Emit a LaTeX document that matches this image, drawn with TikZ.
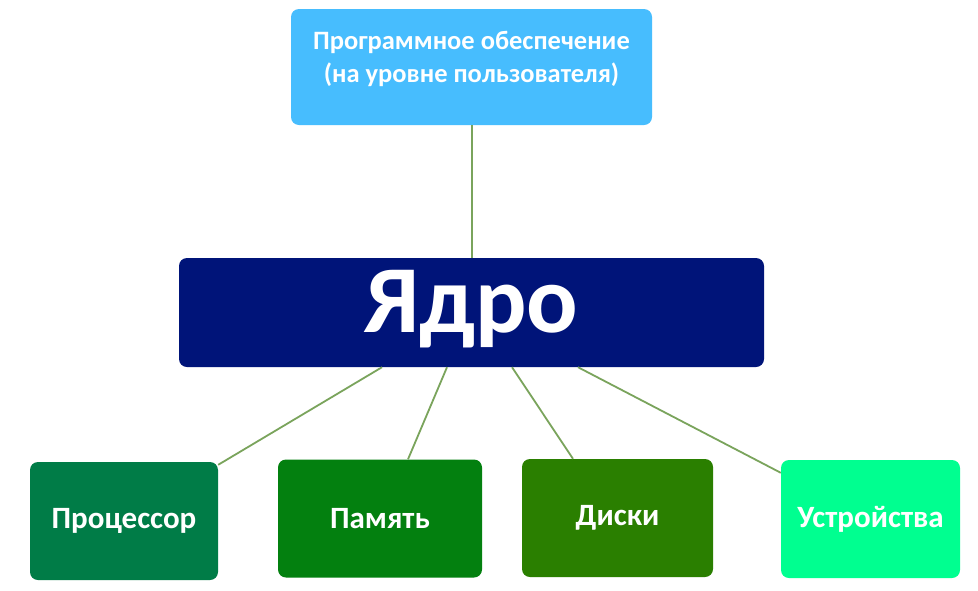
\documentclass[tikz,border=0pt]{standalone}
\usepackage{fontspec}
\setmainfont{Carlito}
\usepackage{tikz}
\usetikzlibrary{positioning}
\definecolor{msky}{HTML}{47BDFE}
\definecolor{mnavy}{HTML}{001479}
\definecolor{mproc}{HTML}{007C47}
\definecolor{mmem}{HTML}{03800F}
\definecolor{mdisk}{HTML}{2A7F00}
\definecolor{mdev}{HTML}{00FF90}
\definecolor{mlink}{HTML}{7AA45C}
\tikzset{box/.style = {rectangle, rounded corners = 8, inner sep = 0, text = white, font = \bfseries}}
\tikzset{part/.style = {box, minimum height = 118, font = \bfseries\fontsize{31}{37}\selectfont}}
\tikzset{link/.style = {mlink, line width = 1.8}}

\begin{document}
\begin{tikzpicture}[x = 1pt, y = -1pt]

       \useasboundingbox [fill = white] (0, 0) rectangle (978, 590);

       \node [box, fill = msky, minimum width = 361, minimum height = 116, align = center,
              text depth = 20, font = \bfseries\fontsize{26.5}{33}\selectfont] (soft) at (471.5, 67)
             {Программное обеспечение\\(на уровне пользователя)};
       \node [box, fill = mnavy, minimum width = 585, minimum height = 109, text depth = 23,
              font = \bfseries\fontsize{96}{110}\selectfont] (core) at (471.5, 312.5) {Ядро};

       \node [part, fill = mproc, minimum width = 188] (proc) at (124, 521) {Процессор};
       \node [part, fill = mmem, minimum width = 204] (mem) at (380, 518.5) {Память};
       \node [part, fill = mdisk, minimum width = 191] (disk) at (617.5, 518) {Диски};
       \node [part, fill = mdev, minimum width = 179] (dev) at (870.5, 519) {Устройства};

       \draw [link] ([xshift = 0.5]soft.south) -- ([xshift = 0.5]core.north);
       \draw [link] ([xshift = -89.5]core.south) -- ([yshift = -3]proc.north east);
       \draw [link] ([xshift = -24.5]core.south) -- ([xshift = 28]mem.north);
       \draw [link] ([xshift = 40.5]core.south) -- ([xshift = -44.5]disk.north);
       \draw [link] ([xshift = 106.5]core.south) -- ([yshift = -13]dev.north west);
    \end{tikzpicture}
\end{document}
